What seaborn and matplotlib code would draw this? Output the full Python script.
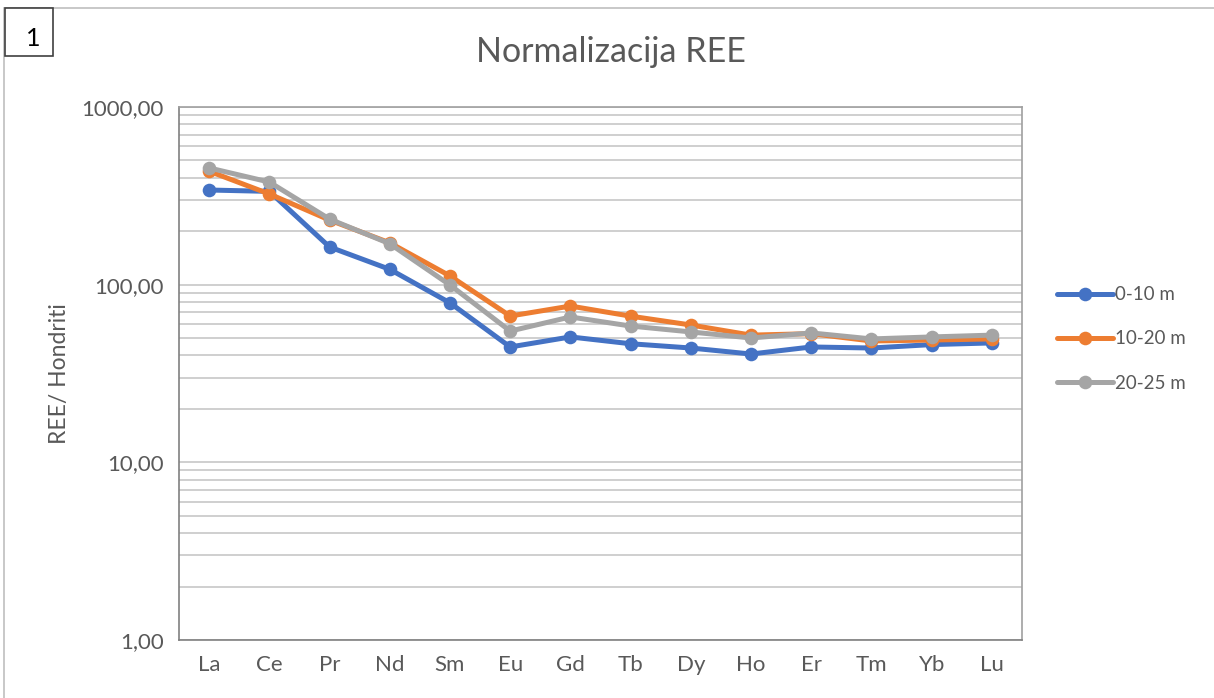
import numpy as np
import pandas as pd
import seaborn as sns
import matplotlib
matplotlib.use("Agg")
import matplotlib.pyplot as plt
from matplotlib.ticker import FixedLocator, FuncFormatter, LogLocator, NullFormatter
from matplotlib.patches import Rectangle
from matplotlib.lines import Line2D

elements = ["La", "Ce", "Pr", "Nd", "Sm", "Eu", "Gd", "Tb", "Dy", "Ho", "Er", "Tm", "Yb", "Lu"]
s_0_10 = [341, 335, 163, 122, 79, 44.6, 50.8, 46.5, 44, 40.7, 44.6, 44, 46, 47]
s_10_20 = [435, 324, 231, 172, 112, 66.6, 75.8, 66.5, 59.3, 52, 53, 48.2, 48.8, 49.5]
s_20_25 = [454, 378, 234, 170, 99.6, 54.8, 65.8, 58.5, 54.2, 50.1, 53.5, 49.5, 50.8, 52]
series_names = ["0-10 m", "10-20 m", "20-25 m"]
colors = ["#4472C4", "#ED7D31", "#A5A5A5"]

df = pd.DataFrame({
    "element": elements * 3,
    "value": s_0_10 + s_10_20 + s_20_25,
    "series": [series_names[0]] * 14 + [series_names[1]] * 14 + [series_names[2]] * 14,
})
df["pos"] = df["element"].map({e: i for i, e in enumerate(elements)})

sns.set_theme(style="white")
plt.rcParams["font.family"] = ["Lato", "DejaVu Sans"]
txt = "#595959"

fig = plt.figure(figsize=(12.14, 6.98), dpi=100)
W, H = 1214, 698
ax = fig.add_axes([179 / W, 1 - 640 / H, (1022 - 179) / W, (640 - 107) / H])

LW, MS = 3.6, 9.8
sns.lineplot(data=df, x="pos", y="value", hue="series", palette=colors,
             marker="o", markersize=MS, markeredgewidth=0, linewidth=LW,
             ax=ax, legend=False, sort=False)

ax.set_yscale("log")
ax.set_ylim(1, 1000)
ax.set_xlim(-0.5, 13.5)
ax.set_xticks(range(len(elements)))
ax.set_xticklabels(elements)
ax.yaxis.set_major_locator(FixedLocator([1, 10, 100, 1000]))
ax.yaxis.set_major_formatter(FuncFormatter(lambda v, p: f"{v:.2f}".replace(".", ",")))
ax.yaxis.set_minor_locator(LogLocator(base=10, subs=np.arange(2, 10)))
ax.yaxis.set_minor_formatter(NullFormatter())
ax.grid(True, which="both", axis="y", color="#CFCFCF", linewidth=1.4)
ax.set_axisbelow(True)
ax.tick_params(axis="both", which="both", length=0, labelsize=16, labelcolor=txt, pad=11)
for s in ax.spines.values():
    s.set_visible(True)
    s.set_color("#A0A0A0")
    s.set_linewidth(1.2)
ax.spines["left"].set_color("#808080")
ax.spines["bottom"].set_color("#808080")
ax.set_xlabel("")
ax.set_ylabel("REE/ Hondriti", fontsize=16.5, color=txt, labelpad=8)

fig.text(611 / W, 1 - 52 / H, "Normalizacija REE", ha="center", va="center",
         fontsize=24.5, color=txt)

handles = [Line2D([0], [0], color=c, lw=LW, marker="o", markersize=MS, markeredgewidth=0)
           for c in colors]
leg = fig.legend(handles, series_names, loc="center left",
                 bbox_to_anchor=(1040 / W, 1 - 339 / H), frameon=False,
                 fontsize=13.5, labelcolor=txt, handlelength=3.0, labelspacing=1.45,
                 handletextpad=0.1)

fig.add_artist(Rectangle((4 / W, -0.05), 1.1, 1 - 8 / H + 0.05, transform=fig.transFigure,
                         fill=False, edgecolor="#BFBFBF", linewidth=1.2))
fig.add_artist(Rectangle((5 / W, 1 - 56 / H), 48 / W, 48 / H, transform=fig.transFigure,
                         fill=True, facecolor="white", edgecolor="#404040", linewidth=1.2))
fig.text(33 / W, 1 - 38 / H, "1", ha="center", va="center", fontsize=18, color="black")

fig.savefig("out.png", dpi=100)
